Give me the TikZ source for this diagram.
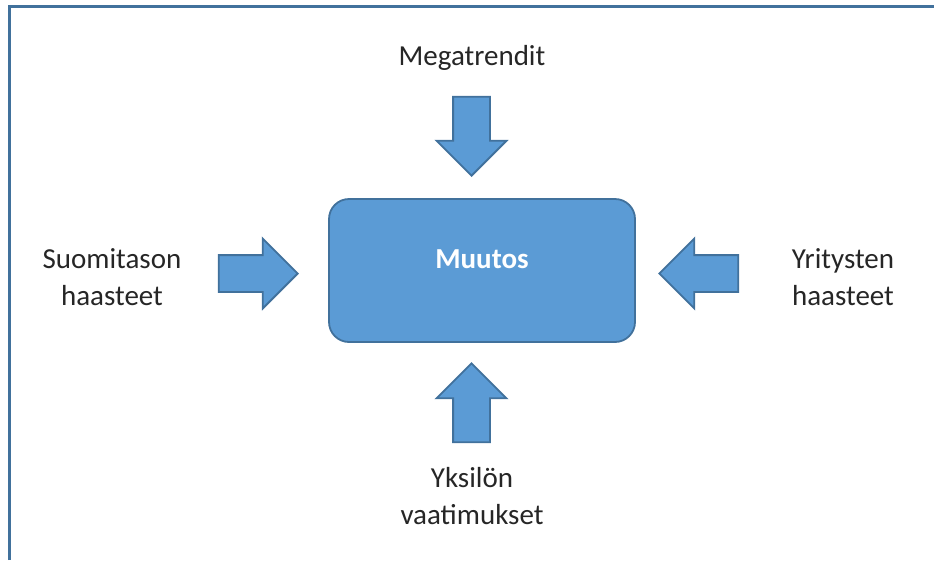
\documentclass[tikz,border=0pt]{standalone}
\usepackage{fontspec}
\setmainfont{Carlito}
\usepackage{tikz}
\usetikzlibrary{shapes.arrows}

\definecolor{boxblue}{RGB}{91,155,213}
\definecolor{edgeblue}{RGB}{65,113,156}
\definecolor{textgray}{RGB}{38,38,38}

\begin{document}
\begin{tikzpicture}[x=1pt, y=-1pt,
		every node/.style={font=\fontsize{29}{37}\selectfont, text=textgray},
		blockarrow/.style={single arrow, draw=edgeblue, fill=boxblue, line width=1.8pt, inner sep=17.5pt,
			minimum height=79pt, single arrow head extend=16.5pt, anchor=tip},
		side/.style={align=center}]
			\useasboundingbox (0,0) rectangle (934,560);
			% Frame
			\draw[edgeblue, line width=3pt] (9,560) -- (9,6.5) -- (934,6.5);
			
			% Nodes
			\node[draw=edgeblue, fill=boxblue, line width=1.8pt, rounded corners=20pt, minimum width=306pt, minimum height=143pt,
				text=white, font=\fontsize{29}{37}\selectfont\bfseries, text height=19pt, text depth=24pt] (muutos) at (482,270.5) {Muutos};
			
			\node[blockarrow, shape border rotate=270] (ylhaalta) at (471.5,177) {};
			\node[blockarrow, shape border rotate=90] (alhaalta) at (471.5,362) {};
			\node[blockarrow] (vasemmalta) at (299,273.5) {};
			\node[blockarrow, shape border rotate=180] (oikealta) at (658,273.5) {};
			
			% Texts
			\node[side] (mega) at (472,58) {Megatrendit};
			\node[side] (suomi) at (112,277.5) {Suomitason\\haasteet};
			\node[side] (yritys) at (843,277.5) {Yritysten\\haasteet};
			\node[side] (yksilo) at (472,496) {Yksilön\\vaatimukset};
		\end{tikzpicture}
\end{document}
